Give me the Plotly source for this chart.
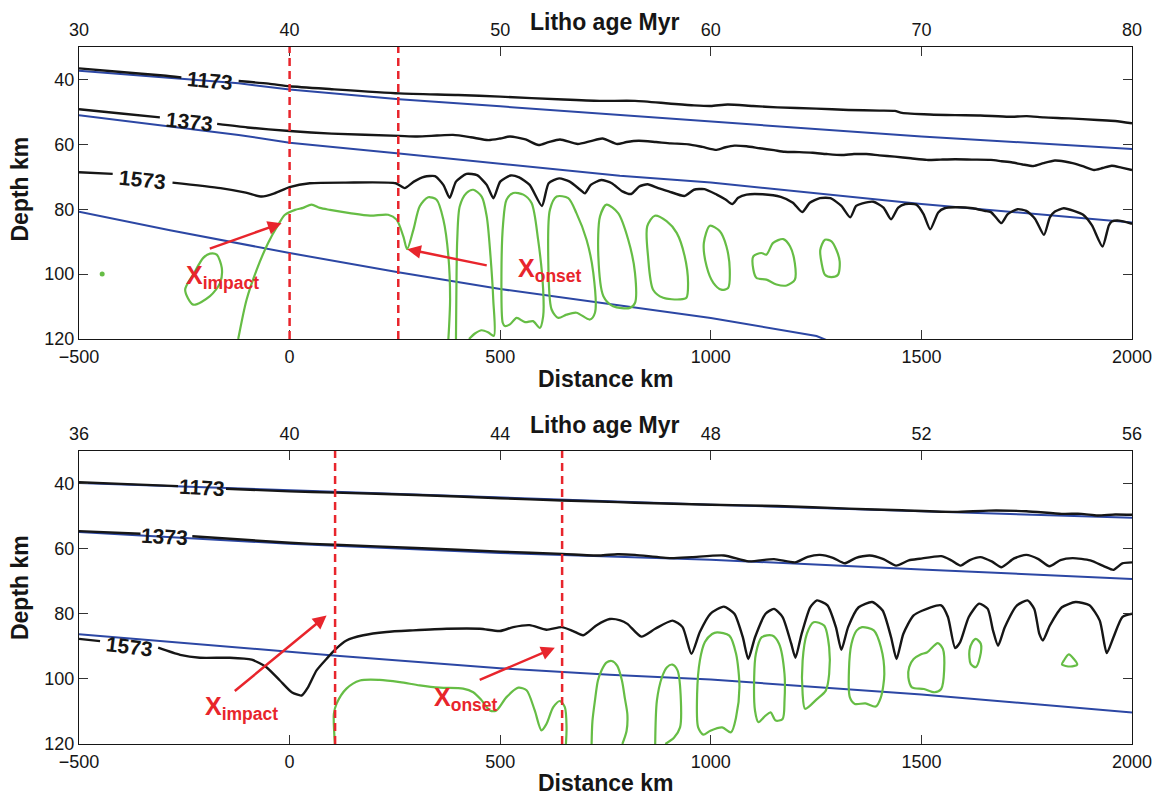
import plotly.graph_objects as go

N = None
# ---------------- TOP PANEL DATA (Distance km, Depth km) ----------------
top_1173_x = [-500, -400, -300, -257, N, -121, -50, 0, 100, 260, 400, 500, 650, 736, 820, 900, 960, 1000, 1040, 1100, 1158, 1250, 1327, 1400, 1437, 1454, 1520, 1580, 1640, 1707, 1750, 1791, 1850, 1918, 1960, 2000]
top_1173_y = [36.6, 37.7, 38.8, 39.4, N, 40.5, 41.3, 42.1, 43.0, 44.3, 44.8, 45.3, 46.2, 46.6, 46.6, 47.4, 48.0, 48.2, 47.7, 48.2, 48.6, 49.0, 49.4, 49.6, 49.7, 50.3, 50.8, 51.0, 51.1, 51.5, 51.3, 51.7, 52.0, 52.5, 52.8, 53.5]

top_1373_x = [-500, -400, -308, N, -172, -100, 0, 100, 260, 303, 350, 388, 430, 472, 500, 523, 560, 591, 615, 642, 684, 715, 743, 778, 800, 829, 870, 905, 947, 980, 1014, 1035, 1056, 1085, 1116, 1150, 1175, 1210, 1242, 1275, 1310, 1340, 1369, 1400, 1437, 1475, 1513, 1545, 1580, 1620, 1665, 1690, 1716, 1740, 1766, 1790, 1817, 1840, 1859, 1885, 1910, 1930, 1952, 1975, 2000]
top_1373_y = [49.2, 50.5, 51.7, N, 53.7, 54.8, 55.9, 56.7, 57.4, 57.6, 57.3, 57.1, 57.8, 58.7, 58.2, 57.6, 58.5, 60.2, 59.3, 58.5, 59.9, 59.0, 58.2, 59.9, 59.3, 58.9, 59.3, 59.7, 60.0, 60.8, 61.7, 60.9, 60.4, 60.6, 61.2, 61.8, 62.3, 62.4, 62.6, 63.0, 63.3, 63.0, 63.0, 63.4, 63.8, 64.3, 64.8, 64.7, 64.6, 64.7, 64.8, 65.2, 65.6, 66.2, 66.7, 65.8, 65.0, 65.3, 65.8, 66.8, 67.9, 67.3, 66.6, 67.2, 67.9]

top_1573_x = [-500, -420, N, -278, -164, -104, -66, -36, 0, 48, 133, 252, 273, 295, 320, 345, 365, 380, 395, 420, 445, 468, 484, 500, 525, 545, 570, 599, 615, 640, 665, 690, 701, 715, 740, 765, 790, 811, 830, 850, 875, 900, 938, 960, 985, 1014, 1035, 1051, 1065, 1085, 1123, 1166, 1195, 1217, 1235, 1259, 1284, 1310, 1331, 1345, 1360, 1386, 1410, 1428, 1445, 1462, 1488, 1505, 1521, 1540, 1555, 1580, 1622, 1650, 1665, 1680, 1690, 1705, 1728, 1749, 1770, 1791, 1805, 1817, 1838, 1862, 1884, 1905, 1930, 1945, 1952, 1969, 2000]
top_1573_y = [68.6, 69.1, N, 71.8, 73.5, 74.9, 76.1, 75.1, 73.2, 72.0, 71.8, 72.0, 73.5, 71.5, 70.0, 69.8, 72.5, 76.5, 71.5, 69.1, 69.5, 72.5, 76.6, 71.5, 69.6, 70.2, 72.5, 79.0, 72.0, 70.5, 71.5, 74.0, 75.1, 72.5, 71.0, 72.0, 74.5, 75.3, 73.0, 72.3, 73.5, 74.5, 75.9, 74.0, 73.8, 75.5, 77.0, 78.4, 76.5, 75.5, 75.4, 76.2, 78.0, 80.9, 78.0, 76.6, 76.6, 79.0, 82.5, 79.0, 78.2, 77.7, 79.5, 83.1, 79.5, 78.4, 78.6, 81.5, 86.2, 81.0, 79.7, 79.4, 79.7, 80.5, 80.9, 83.0, 84.3, 81.5, 80.0, 80.5, 83.0, 87.9, 82.5, 80.7, 79.7, 80.5, 81.7, 85.0, 91.5, 85.0, 83.8, 83.5, 84.5]

top_blue1_x = [-500, -121, 0, 260, 500, 736, 1000, 1500, 2000]
top_blue1_y = [37.3, 41.2, 43.1, 46.1, 48.3, 50.5, 53.0, 57.6, 61.4]
top_blue2_x = [-500, -121, 0, 260, 784, 1000, 1500, 2000]
top_blue2_y = [51.0, 57.1, 59.5, 62.8, 69.7, 71.8, 78.4, 84.1]
top_blue3_x = [-500, -284, 0, 258, 500, 1000, 1251, 1280]
top_blue3_y = [80.8, 86.5, 93.5, 99.4, 104.6, 113.5, 119.1, 120.6]

top_green_x = [-173, -161, -165, -189, -229, -248, -229, -205, -189, -173, N,
               -122, -102, -78, -51, -27, -11, 13, 32, 52, 72, 96, 143, 191, 234, 254, 270, 279, 294, 309, 329, 349, 365, 377, 381, 377, N,
               395, 396, 398, 404, 420, 436, 456, 468, 477, 483.5, 485, 472, 456, 440, 426, N,
               506, 503, 507, 515, 531, 555, 574.5, 590, 602, 602, 594, 578, 559, 539, 523, 511, 506, N,
               634, 618, 614, 622, 638, 657.5, 681, 713, 725, 721, 705, 681, 661.5, 634, N,
               752.5, 737, 733, 745, 768, 808, 820, 820, 804, 780, 752.5, N,
               867, 849, 851, 863, 887, 926.5, 942, 946, 938, 919, 895, 867, N,
               998, 983.5, 990, 1006, 1025, 1041, 1045, 1037, 1021.5, 998, N,
               1101, 1120, 1132, 1148, 1172, 1188, 1199.5, 1199.5, 1180, 1156, 1132, 1108.5, 1101, 1101, N,
               1271, 1260, 1263, 1271, 1286.5, 1302, 1306, 1298, 1286.5, 1271]
top_green_y = [94.0, 98.1, 102.7, 106.8, 109.4, 104.8, 100.2, 95.0, 93.7, 94.0, N,
               120.0, 107.8, 98.6, 90.4, 84.8, 81.7, 80.2, 79.6, 78.6, 79.6, 80.2, 81.2, 82.0, 81.7, 83.2, 88.4, 92.3, 86.3, 79.1, 76.3, 77.1, 83.2, 94.5, 107.8, 120.0, N,
               120.0, 104.8, 89.4, 79.1, 75.0, 74.0, 76.1, 82.2, 94.5, 107.8, 119.0, 118.0, 117.3, 118.3, 120.0, N,
               115.0, 99.6, 84.3, 77.1, 75.0, 75.5, 78.1, 89.4, 104.8, 113.0, 116.6, 114.5, 114.8, 113.5, 115.5, 116.0, 115.0, N,
               76.1, 80.2, 94.5, 110.9, 113.5, 112.5, 111.9, 114.0, 111.9, 99.6, 89.4, 81.2, 76.6, 76.1, N,
               78.6, 82.2, 94.5, 106.8, 109.9, 110.4, 108.9, 99.6, 89.4, 81.2, 78.6, N,
               82.0, 85.3, 94.5, 104.8, 107.3, 107.8, 107.3, 102.7, 94.5, 87.3, 83.7, 82.0, N,
               85.1, 90.4, 97.6, 102.7, 104.8, 104.3, 98.6, 91.4, 86.8, 85.1, N,
               94.5, 93.5, 94.0, 90.4, 89.2, 91.4, 96.6, 101.7, 103.5, 103.2, 101.7, 101.2, 98.6, 94.5, N,
               89.4, 92.5, 96.6, 100.2, 100.9, 100.2, 96.1, 92.5, 89.9, 89.4]
top_dot_x = [-445]
top_dot_y = [100.0]

top_markers_x = [0, 258]          # X_impact, X_onset dashed lines
top_arrows = [(-193, 92.3, -19, 84.3), (471.6, 97.4, 279, 92.3)]  # tail x, tail y, tip x, tip y

# ---------------- BOTTOM PANEL DATA ----------------
bot_1173_x = [-500, -400, -265, N, -151, 0, 108, 300, 500, 647, 736, 820, 1000, 1158, 1327, 1454, 1580, 1660, 1749, 1833, 1880, 1918, 1960, 2000]
bot_1173_y = [39.6, 40.1, 40.8, N, 41.6, 42.4, 42.8, 43.5, 44.5, 45.2, 45.5, 45.9, 46.5, 46.9, 47.7, 48.2, 48.7, 48.3, 48.5, 49.3, 49.3, 49.8, 49.5, 49.6]

bot_1373_x = [-500, -354, N, -231, 0, 108, 300, 500, 647, 736, 778, 820, 905, 955, 1031, 1090, 1150, 1200, 1230, 1259, 1290, 1318, 1345, 1377, 1410, 1440, 1470, 1496, 1547, 1570, 1593, 1615, 1640, 1668, 1690, 1720, 1749, 1778, 1804, 1830, 1859, 1901, 1935, 1956, 1977, 2000]
bot_1373_y = [54.6, 55.4, N, 56.2, 58.2, 58.8, 59.8, 60.9, 61.6, 62.1, 61.7, 61.9, 62.9, 62.6, 62.1, 63.9, 63.2, 64.2, 62.5, 61.9, 62.8, 64.5, 62.8, 62.1, 63.2, 65.2, 63.6, 63.1, 62.3, 63.5, 65.2, 63.5, 62.6, 64.0, 65.7, 63.0, 61.9, 63.2, 65.4, 63.5, 62.9, 63.6, 65.5, 66.5, 64.5, 64.2]

bot_1573_x = [-500, -450, N, -312, -260, -213, -142, -90, -55, -23, 5, 28.5, 44, 64, 88, 108, 135, 175, 230, 293, 373, 452, 499, 531, 570, 610, 646, 673, 697, 729, 760, 785, 802, 835, 868, 909, 933, 954, 974, 999, 1031, 1056, 1076, 1089, 1105, 1130, 1150, 1170.5, 1191, 1201, 1215.5, 1236, 1252, 1277, 1297, 1310, 1326, 1351, 1383, 1408, 1428, 1441, 1457, 1481.5, 1522, 1547, 1563, 1580, 1592, 1612.5, 1637, 1657.5, 1670, 1682, 1698, 1727, 1752, 1768, 1780, 1788.5, 1805, 1833.5, 1866, 1899, 1923.5, 1940, 1956, 1977, 2000]
bot_1573_y = [87.7, 88.4, N, 90.4, 92.6, 93.5, 93.5, 94.1, 96.4, 100.5, 104.1, 105.1, 102.5, 97.4, 93.8, 91.0, 88.2, 86.6, 85.6, 85.1, 84.6, 84.6, 85.3, 84.1, 83.5, 84.9, 84.1, 85.3, 86.6, 83.5, 81.6, 82.0, 83.1, 87.0, 84.6, 82.1, 84.1, 92.3, 85.6, 80.0, 77.8, 80.0, 87.2, 93.9, 87.2, 80.0, 78.5, 81.0, 89.2, 93.5, 86.2, 78.0, 75.9, 77.4, 84.1, 91.1, 84.1, 78.0, 76.4, 79.0, 87.2, 93.9, 86.2, 80.5, 78.0, 77.4, 81.0, 90.5, 88.7, 81.0, 76.9, 78.5, 85.1, 89.8, 84.1, 77.4, 75.9, 78.5, 86.2, 88.2, 83.6, 78.0, 76.4, 77.4, 82.1, 92.1, 87.2, 81.0, 80.0]

bot_blue1_x = [-500, 0, 500, 1000, 1500, 2000]
bot_blue1_y = [39.8, 42.1, 44.3, 46.5, 48.5, 50.5]
bot_blue2_x = [-500, 0, 500, 1000, 1500, 2000]
bot_blue2_y = [54.9, 58.5, 61.3, 63.4, 66.4, 69.3]
bot_blue3_x = [-500, -260, 104, 499, 760, 1000, 1500, 2000]
bot_blue3_y = [86.3, 88.9, 92.8, 96.7, 98.7, 100.2, 104.8, 110.3]

bot_green_x = [107.6, 105.2, 111.6, 135, 167, 214, 262, 309, 357, 412, 436, 456, 475.5, 491, 515, 543, 562.5, 582, 598, 610, 626, 642, 653.5, 657.5, 656, N,
               717, 719, 725, 732, 740.5, 752, 765, 778, 789, 796, 802, 800, 790, N,
               868, 872, 884, 896, 909, 921, 929, 927, 913, 892, N,
               1003, 986, 974, 967.5, 970, 982, 999, 1027, 1048, 1060, 1068, 1060, 1044, 1015, 1003, N,
               1121, 1107, 1103, 1105, 1113, 1130, 1142, 1154, 1170.5, 1175, 1175, 1162, 1146, 1121, N,
               1244, 1228, 1218, 1218, 1224, 1252, 1273, 1281, 1281, 1269, 1244, N,
               1359, 1346.5, 1334, 1328, 1330, 1342, 1367, 1391.5, 1404, 1412, 1404, 1387, 1359, N,
               1514, 1498, 1481.5, 1471, 1469, 1477.5, 1506, 1531, 1547, 1554, 1551, 1539, 1514, N,
               1629, 1621, 1614, 1617, 1629, 1639, 1641, 1629, N,
               1850, 1838, 1833.5, 1854, 1870, 1862, 1850]
bot_green_y = [120.0, 110.7, 107.6, 103.0, 100.5, 100.3, 101.0, 102.0, 102.7, 103.0, 104.1, 106.6, 109.7, 109.7, 105.6, 102.7, 103.5, 109.7, 115.8, 113.8, 108.7, 106.8, 108.7, 114.8, 120.0, N,
               120.0, 113.0, 106.6, 100.5, 97.4, 95.0, 94.5, 96.0, 100.5, 106.0, 111.0, 116.0, 120.0, N,
               120.0, 106.7, 99.5, 96.4, 95.6, 97.4, 106.7, 114.9, 118.0, 120.0, N,
               86.2, 88.7, 94.4, 104.6, 114.9, 117.1, 115.9, 114.9, 116.4, 111.8, 102.6, 92.3, 86.7, 85.7, 86.2, N,
               87.2, 92.3, 99.5, 109.8, 113.3, 111.3, 110.3, 112.8, 112.3, 106.7, 98.5, 89.2, 86.7, 87.2, N,
               82.6, 86.2, 94.4, 104.6, 109.2, 106.2, 103.6, 98.5, 90.3, 83.6, 82.6, N,
               84.1, 85.1, 89.2, 97.4, 105.6, 107.7, 107.5, 108.5, 105.6, 98.5, 90.3, 85.1, 84.1, N,
               91.8, 92.5, 93.9, 96.4, 99.5, 102.6, 103.1, 104.1, 103.1, 97.4, 90.8, 89.0, 91.8, N,
               87.7, 88.7, 91.3, 95.4, 96.4, 93.3, 89.2, 87.7, N,
               92.5, 94.4, 95.6, 96.2, 95.6, 93.9, 92.5]

bot_markers_x = [108, 647]
bot_arrows = [(-133.7, 104.1, 87.8, 80.5), (447.8, 100.5, 629.8, 90.4)]

# labels
iso_labels = ["1173", "1373", "1573"]
top_label_pos = [(-189, 40.4, 5), (-238, 53.0, 6), (-349, 70.9, 6)]
bot_label_pos = [(-208, 41.3, 3), (-297, 56.3, 3), (-380, 89.9, 7)]

dist_ticks = [-500, 0, 500, 1000, 1500, 2000]
depth_ticks = [40, 60, 80, 100, 120]
top_age_ticks = [30, 40, 50, 60, 70, 80]
bot_age_ticks = [36, 40, 44, 48, 52, 56]

BLACK = "#161616"
BLUE = "#2c47a4"
GREEN = "#66bd45"
RED = "#e8252c"
FONT = "Liberation Sans, Arial, Helvetica, sans-serif"

fig = go.Figure()

def line(x, y, color, width, xa, ya, smooth=None):
    ln = dict(color=color, width=width)
    if smooth:
        ln.update(shape="spline", smoothing=smooth)
    fig.add_trace(go.Scatter(x=x, y=y, mode="lines", line=ln,
                             xaxis=xa, yaxis=ya, showlegend=False, hoverinfo="skip", connectgaps=False))

for xa, ya, blues, blacks, gx, gy in [
    ("x", "y", [(top_blue1_x, top_blue1_y), (top_blue2_x, top_blue2_y), (top_blue3_x, top_blue3_y)],
     [(top_1173_x, top_1173_y), (top_1373_x, top_1373_y), (top_1573_x, top_1573_y)], top_green_x, top_green_y),
    ("x3", "y2", [(bot_blue1_x, bot_blue1_y), (bot_blue2_x, bot_blue2_y), (bot_blue3_x, bot_blue3_y)],
     [(bot_1173_x, bot_1173_y), (bot_1373_x, bot_1373_y), (bot_1573_x, bot_1573_y)], bot_green_x, bot_green_y)]:
    for bx, by in blues:
        line(bx, by, BLUE, 2.0, xa, ya)
    line(gx, gy, GREEN, 2.2, xa, ya, smooth=0.8)
    for kx, ky in blacks:
        line(kx, ky, BLACK, 2.4, xa, ya, smooth=0.6)

fig.add_trace(go.Scatter(x=top_dot_x, y=top_dot_y, mode="markers", marker=dict(color=GREEN, size=5),
                         xaxis="x", yaxis="y", showlegend=False, hoverinfo="skip"))
# invisible traces so the age axes render
fig.add_trace(go.Scatter(x=[top_age_ticks[0]], y=[30], mode="markers", opacity=0, xaxis="x2", yaxis="y", showlegend=False, hoverinfo="skip"))
fig.add_trace(go.Scatter(x=[bot_age_ticks[0]], y=[30], mode="markers", opacity=0, xaxis="x4", yaxis="y2", showlegend=False, hoverinfo="skip"))

shapes = []
for xv in top_markers_x:
    shapes.append(dict(type="line", xref="x", yref="y domain", x0=xv, x1=xv, y0=0, y1=1,
                       line=dict(color=RED, width=2.5, dash="8px,5px"), layer="above"))
for xv in bot_markers_x:
    shapes.append(dict(type="line", xref="x3", yref="y2 domain", x0=xv, x1=xv, y0=0, y1=1,
                       line=dict(color=RED, width=2.5, dash="8px,5px"), layer="above"))

ann = []
for (tx, ty, hx, hy) in top_arrows:
    ann.append(dict(x=hx, y=hy, ax=tx, ay=ty, xref="x", yref="y", axref="x", ayref="y", text="",
                    showarrow=True, arrowhead=2, arrowsize=1.1, arrowwidth=2.5, arrowcolor=RED))
for (tx, ty, hx, hy) in bot_arrows:
    ann.append(dict(x=hx, y=hy, ax=tx, ay=ty, xref="x3", yref="y2", axref="x3", ayref="y2", text="",
                    showarrow=True, arrowhead=2, arrowsize=1.1, arrowwidth=2.5, arrowcolor=RED))

redfont = dict(family=FONT, size=25, color=RED)
ann += [
    dict(x=-250, y=95.3, xref="x", yref="y", text="<b>X<sub>impact</sub></b>", showarrow=False, xanchor="left", yanchor="top", font=redfont),
    dict(x=537, y=93.2, xref="x", yref="y", text="<b>X<sub>onset</sub></b>", showarrow=False, xanchor="left", yanchor="top", font=redfont),
    dict(x=-205, y=103.3, xref="x3", yref="y2", text="<b>X<sub>impact</sub></b>", showarrow=False, xanchor="left", yanchor="top", font=redfont),
    dict(x=339, y=100.7, xref="x3", yref="y2", text="<b>X<sub>onset</sub></b>", showarrow=False, xanchor="left", yanchor="top", font=redfont),
]
for lab, (lx, ly, ang) in zip(iso_labels, top_label_pos):
    ann.append(dict(x=lx, y=ly, xref="x", yref="y", text="<b>%s</b>" % lab, showarrow=False, textangle=ang,
                    xanchor="center", yanchor="middle", font=dict(family=FONT, size=21, color=BLACK)))
for lab, (lx, ly, ang) in zip(iso_labels, bot_label_pos):
    ann.append(dict(x=lx, y=ly, xref="x3", yref="y2", text="<b>%s</b>" % lab, showarrow=False, textangle=ang,
                    xanchor="center", yanchor="middle", font=dict(family=FONT, size=21, color=BLACK)))

titlefont = dict(family=FONT, size=23, color=BLACK)
def title(x, y, t, ang=0):
    return dict(x=x, y=y, xref="paper", yref="paper", text="<b>%s</b>" % t, textangle=ang, showarrow=False,
                xanchor="center", yanchor="middle", font=titlefont)
ann += [
    title(-0.056, 0.7956, "Depth km", -90),
    title(-0.056, 0.2238, "Depth km", -90),
    title(0.5005, 0.5237, "Distance km"),
    title(0.5005, -0.056, "Distance km"),
    title(0.4995, 1.0355, "Litho age Myr"),
    title(0.4995, 0.4575, "Litho age Myr"),
]

tickfont = dict(family=FONT, size=18, color=BLACK)
common_x = dict(range=[-500, 2000], tickvals=dist_ticks, ticks="inside", ticklen=9, tickwidth=1.2, tickcolor="#333",
                showline=True, linecolor=BLACK, linewidth=1.3, mirror="ticks", showgrid=False, zeroline=False,
                tickfont=tickfont, ticklabelstandoff=1, automargin=False, ticklabeloverflow="allow")
common_y = dict(range=[120, 30], tickvals=depth_ticks, ticks="inside", ticklen=9, tickwidth=1.2, tickcolor="#333",
                showline=True, linecolor=BLACK, linewidth=1.3, mirror="ticks", showgrid=False, zeroline=False,
                tickfont=tickfont, automargin=False, ticklabeloverflow="allow")
age_common = dict(side="top", ticks="", showline=False, showgrid=False, zeroline=False, tickfont=tickfont,
                  ticklabelstandoff=6, automargin=False, ticklabeloverflow="allow")

fig.update_layout(
    width=1157, height=795,
    margin=dict(l=79, r=25, t=47, b=51),
    plot_bgcolor="white", paper_bgcolor="white",
    xaxis=dict(domain=[0, 1], anchor="y", **common_x),
    yaxis=dict(domain=[405 / 697, 1], anchor="x", **common_y),
    xaxis2=dict(overlaying="x", anchor="y", range=[30, 80], tickvals=top_age_ticks, **age_common),
    xaxis3=dict(domain=[0, 1], anchor="y2", **common_x),
    yaxis2=dict(domain=[0, 293 / 697], anchor="x3", **common_y),
    xaxis4=dict(overlaying="x3", anchor="y2", range=[36, 56], tickvals=bot_age_ticks, **age_common),
    shapes=shapes, annotations=ann, showlegend=False,
)

fig.write_html("out.html", config={"displayModeBar": False},
               post_script="document.body.style.margin='0px';document.body.style.overflow='hidden';")
